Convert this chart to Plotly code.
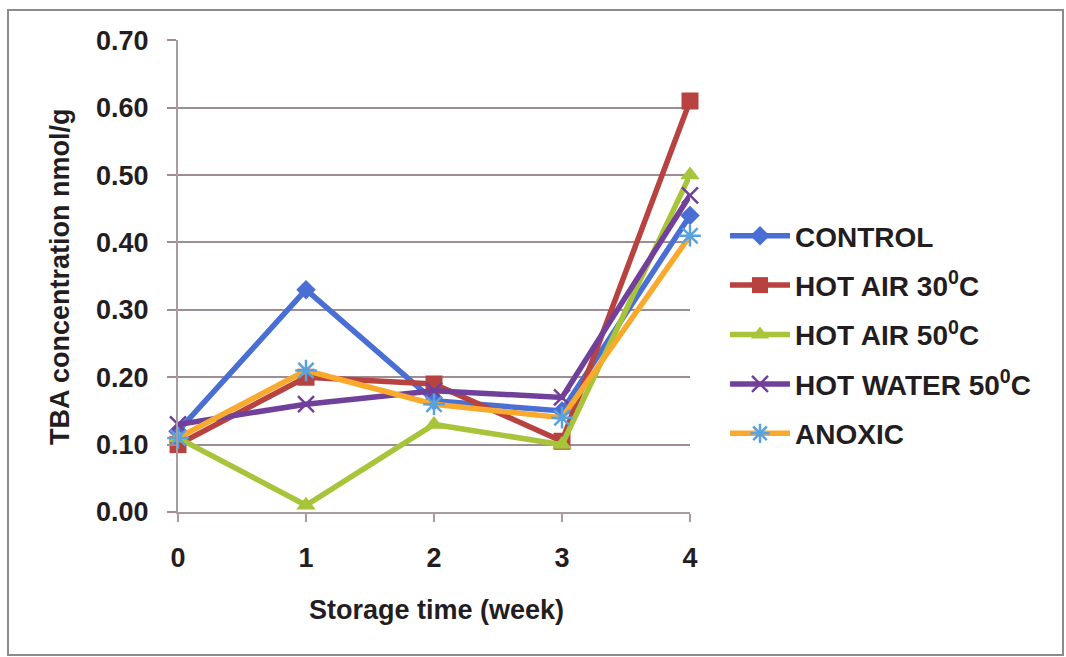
import plotly.graph_objects as go

weeks = [0, 1, 2, 3, 4]
series_names = ["CONTROL", "HOT AIR 30<sup>0</sup>C", "HOT AIR 50<sup>0</sup>C",
                "HOT WATER 50<sup>0</sup>C", "ANOXIC"]
control = [0.12, 0.33, 0.165, 0.15, 0.44]
hot_air_30 = [0.10, 0.20, 0.19, 0.105, 0.61]
hot_air_50 = [0.11, 0.01, 0.13, 0.10, 0.50]
hot_water_50 = [0.13, 0.16, 0.18, 0.17, 0.47]
anoxic = [0.11, 0.21, 0.16, 0.14, 0.41]
y_ticks = [0.0, 0.1, 0.2, 0.3, 0.4, 0.5, 0.6, 0.7]
y_tick_text = ["0.00", "0.10", "0.20", "0.30", "0.40", "0.50", "0.60", "0.70"]

FONT = "Liberation Sans, Arial, sans-serif"
TXT = "#241d1f"
GRID = "#a08c95"

styles = [
    dict(line_color="#4a6fd4", symbol="diamond", size=15, mcolor="#4a6fd4", mline=None),
    dict(line_color="#b8423f", symbol="square", size=17, mcolor="#b8423f", mline=None),
    dict(line_color="#a8c43a", symbol="triangle-up", size=17, mcolor="#a8c43a", mline=None),
    dict(line_color="#71409a", symbol="x-thin-open", size=16, mcolor="#71409a", mline="#71409a"),
    dict(line_color="#f9a92c", symbol="asterisk-open", size=18, mcolor="#5aa2de", mline="#5aa2de"),
]
data = [control, hot_air_30, hot_air_50, hot_water_50, anoxic]

fig = go.Figure()
for name, vals, st in zip(series_names, data, styles):
    marker = dict(symbol=st["symbol"], size=st["size"], color=st["mcolor"])
    if st["mline"]:
        marker["line"] = dict(color=st["mline"], width=2.5)
    fig.add_trace(go.Scatter(
        x=weeks, y=vals, name=name, mode="lines+markers",
        line=dict(color=st["line_color"], width=5.5),
        marker=marker, cliponaxis=False, legendgroup=name,
    ))

W, H = 1066, 657
L, R, T, B = 178, 690, 40, 512
pw, ph = R - L, B - T

def px(x):
    return (x - L) / pw

def py(y):
    return (B - y) / ph

tfont = dict(family=FONT, size=27, color=TXT, weight="bold")
lfont = dict(family=FONT, size=28, color=TXT, weight="bold")

fig.update_layout(
    width=W, height=H,
    margin=dict(l=L, r=W - R, t=T, b=H - B),
    paper_bgcolor="white", plot_bgcolor="white",
    font=tfont,
    showlegend=True,
    legend=dict(
        x=px(725), y=py(211), xanchor="left", yanchor="top",
        font=lfont,
        itemwidth=60, tracegroupgap=10, traceorder="grouped",
        bgcolor="rgba(0,0,0,0)",
    ),
    xaxis=dict(
        range=[0, 4], tickmode="array", tickvals=weeks,
        ticktext=[str(w) for w in weeks],
        showgrid=False, zeroline=False, showline=True,
        linecolor="#a89ca2", linewidth=2,
        ticks="outside", ticklen=8, tickwidth=1.5, tickcolor="#a89ca2",
        ticklabelstandoff=13,
        tickfont=tfont,
    ),
    yaxis=dict(
        range=[0, 0.7005], tickmode="array", tickvals=y_ticks, ticktext=y_tick_text,
        showgrid=True, gridcolor=GRID, gridwidth=1.5, zeroline=False,
        showline=True, linecolor="#a89ca2", linewidth=2,
        ticks="outside", ticklen=9, tickwidth=1.5, tickcolor=GRID,
        ticklabelstandoff=13,
        tickfont=tfont,
    ),
    annotations=[
        dict(text="Storage time (week)", x=px(436), y=py(610), xref="paper", yref="paper",
             showarrow=False, xanchor="center", yanchor="middle", font=tfont),
        dict(text="TBA concentration nmol/g", x=px(60), y=py(277), xref="paper", yref="paper",
             showarrow=False, xanchor="center", yanchor="middle", textangle=-90, font=tfont),
    ],
    shapes=[
        dict(type="rect", xref="paper", yref="paper",
             x0=px(8), x1=px(1063), y0=py(655), y1=py(10),
             line=dict(color="#8e8a8c", width=2), fillcolor="rgba(0,0,0,0)", layer="below"),
    ],
)

fig.write_html("out.html")
